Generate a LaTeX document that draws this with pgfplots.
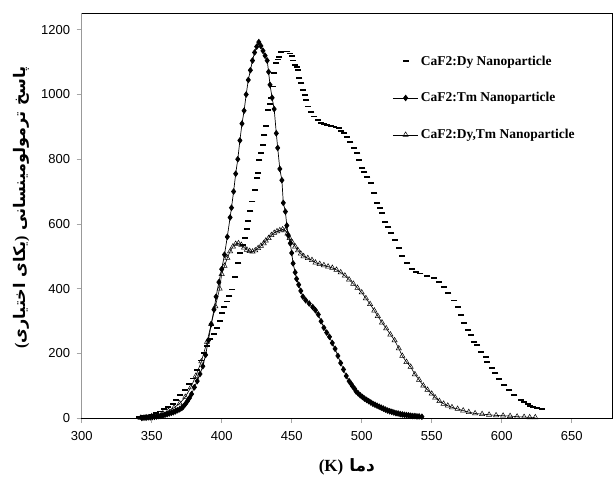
\documentclass[border=0pt]{standalone}
\usepackage{pgfplots}
\pgfplotsset{compat=1.18}
\usepackage{fontspec}
\setmainfont{Liberation Serif}
\setsansfont{Liberation Sans}
\newfontfamily\arabicfont[Script=Arabic]{DejaVu Sans}
\TeXXeTstate=1

\pgfplotstableread{
x y
341 3
344 5
347 8
350 11
353 15
356 20
359 27
362 34
365 44
367.5 56
370.5 70
373.5 87
376.5 105
379.5 122
382.5 148
385.5 178
387.5 200
389.5 222
392 245
394.5 260
396.5 277
398.5 300
400 324
402 342
403.5 360
405.5 378
407.5 397
409.5 436
412 478
413 509
415 535
416.5 556
418 585
419 610
420.5 640
422 669
423.5 705
425.5 741
426 757
427 798
428 820
429.5 844
430.5 875
431.5 903
433 952
434.5 970
435.5 989
436.5 1025
437.5 1066
439 1097
440 1108
441 1117
442.5 1131
444 1133
445.5 1133
447 1133
448.5 1127
450 1119
451 1105
452.5 1091
453.5 1085
454.5 1076
455.5 1050
457 1035
458 1014
459.5 999
460.5 983
461.5 963
464 947
466 932
468.5 920
471 913
473 909
475.5 906
478 903
480 901
482 898
483.5 896
485.5 888
487.5 880
489.5 868
492 854
494.5 834
497 818
498 798
500.5 772
502 760
504 746
506.5 726
509 695
511 664
513 648
514.5 633
517 607
519 590
521 573
523.5 550
526.5 525
528.5 501
532.5 478
536 461
539 452
542 447
547 439
551.5 432
555 421
558.5 406
562 386
566 363
568.5 342
571 318
573 293
576 272
578 257
580.5 236
582.5 226
585 205
588.5 188
589.5 172
593 154
595.5 140
598 120
602 102
605.5 87
609 71
613.5 56
616 49
618.5 43
620.5 38
622.5 33
625.5 30
628.5 27
}\dydata

\pgfplotstableread{
x y
343 0
344.5 1
346 1
347.5 2
349 2
350.5 3
352 4
353.5 5
355 6
356.5 7
358 8
359.5 10
361 12
362.5 14
364 16
365.5 18
367 21
368.5 24
370 27
371.5 31
372.5 35
374 43
375.5 52
377 62
378.5 74
380.5 95
382.5 114
384.5 136
386.5 160
388.5 195
390.5 240
392.5 290
394.5 335
396 375
398 420
400 460
402 505
404 560
406 620
407 650
408.5 700
410 755
411.5 800
413 858
414.5 910
416 950
417.5 1000
419 1045
420.5 1075
422 1105
423.5 1130
425 1148
426.5 1162
428 1150
429.5 1135
431 1120
432.5 1105
433.5 1070
434.5 1030
436 990
437.5 955
439 880
440 835
441.5 770
443 735
444 665
445.5 638
446.5 595
447.5 565
449 540
450 510
451 478
452.5 450
453.5 430
455 412
456.5 393
458 375
460 364
462.5 354
465 343
467 333
469 320
471 299
473 279
475 264
477 251
479 232
481 214
483 192
485 170
487 150
489 130
491 114
492.5 105
493.5 98
495 90
496 82
497.5 76
499 70
500.5 65
502 60
503.5 56
505 52
506.5 48
508 44
509.5 41
511 38
512.5 35
514 32
515.5 29
517 26
518.5 23
520 21
521.5 19
523 17
524.5 15
526 14
527.5 12
529 11
530.5 10
532 9
533.5 8
535 7
536.5 6
538 6
539.5 5
541 5
543 4
}\tmdata

\pgfplotstableread{
x y
342 0
346 2
350 5
354 9
358 14
362 22
366 32
370 45
374 65
378 95
381.5 130
385.5 175
389.5 235
392.5 290
395.5 345
398.5 400
400 445
402 470
404 495
406 515
408 530
410 538
412 540
414 535
416 527
418 520
420 516
422 514
424 518
426 525
428 532
430 540
431.5 548
433.5 556
435.5 565
437.5 572
439.5 577
441.5 580
443.5 583
445.5 580
447 570
448.5 556
450.5 542
452.5 530
454.5 518
456.5 508
458.5 500
461.5 494
464.5 488
467 480
470 476
473 472
476 468
479 464
482 458
485 450
488 440
491 428
494 415
497 402
500 388
503 370
506 352
509 332
511.5 315
514.5 295
517.5 277
520.5 258
523.5 240
526.5 215
529 192
532 173
535 158
538 135
541 118
544 100
547 87
550 75
552.5 63
555.5 52
558.5 44
561.5 38
564.5 33
568.5 28
572.5 23
576.5 18
581 14
586 12
591 10
596 8
601 7
606 6
611 4
616 3
620 2
624 2
}\dytmdata

\begin{document}
\begin{tikzpicture}
\begin{axis}[
  name=ax,
  scale only axis,
  width=530.3pt, height=405pt,
  xmin=300, xmax=678.8,
  ymin=0, ymax=1252,
  xtick={300,350,...,650},
  ytick={0,200,...,1200},
  tick align=outside,
  xtick pos=bottom, ytick pos=left,
  major tick length=5pt,
  tick style={gray!70, line width=0.8pt},
  axis line style={black, line width=0.8pt},
  /pgf/number format/assume math mode=true,
  /pgf/number format/1000 sep={},
  tick label style={font=\sffamily\fontsize{13}{15}\selectfont},
  xticklabel style={yshift=-5pt},
  yticklabel style={xshift=-3pt},
  ylabel={\arabicfont\bfseries\fontsize{16}{18}\selectfont\beginR پاسخ ترمولومینسانی {\rmfamily)}یکای اختیاری{\rmfamily(}\endR},
  ylabel style={at={(axis description cs:-0.113,0.52)}, anchor=center},
  xlabel={\arabicfont\bfseries\fontsize{17}{19}\selectfont\beginR دما \beginL{\rmfamily(K)}\endL\endR},
  xlabel style={at={(axis description cs:0.5,-0.12)}, anchor=center},
  legend image code/.code={\draw[mark repeat=2,mark phase=2,#1] plot coordinates {(0cm,0cm) (0.45cm,0cm) (0.9cm,0cm)};},
  legend style={at={(axis description cs:0.58,0.905)}, anchor=north west,
    draw=none, fill=none, font=\bfseries\fontsize{13.5}{15}\selectfont,
    row sep=22pt},
  legend cell align=left,
]
\addplot[only marks, mark=-, mark size=3pt, mark options={line width=1.8pt, black}] table {\dydata};
\addlegendentry{CaF2:Dy Nanoparticle}
\addplot[black, line width=0.7pt, mark=diamond*, mark size=2.8pt, mark options={fill=black}] table {\tmdata};
\addlegendentry{CaF2:Tm Nanoparticle}
\addplot[black, line width=0.6pt, mark=triangle, mark size=3pt, mark options={fill=white, line width=0.5pt}] table {\dytmdata};
\addlegendentry{CaF2:Dy,Tm Nanoparticle}
\end{axis}
\draw[gray!80, line width=1.4pt] (ax.south west) -- (ax.north west);
\pgfresetboundingbox
\path ([shift={(-81.7pt,-69pt)}]ax.south west) rectangle ++(613pt,487pt);
\end{tikzpicture}
\end{document}
